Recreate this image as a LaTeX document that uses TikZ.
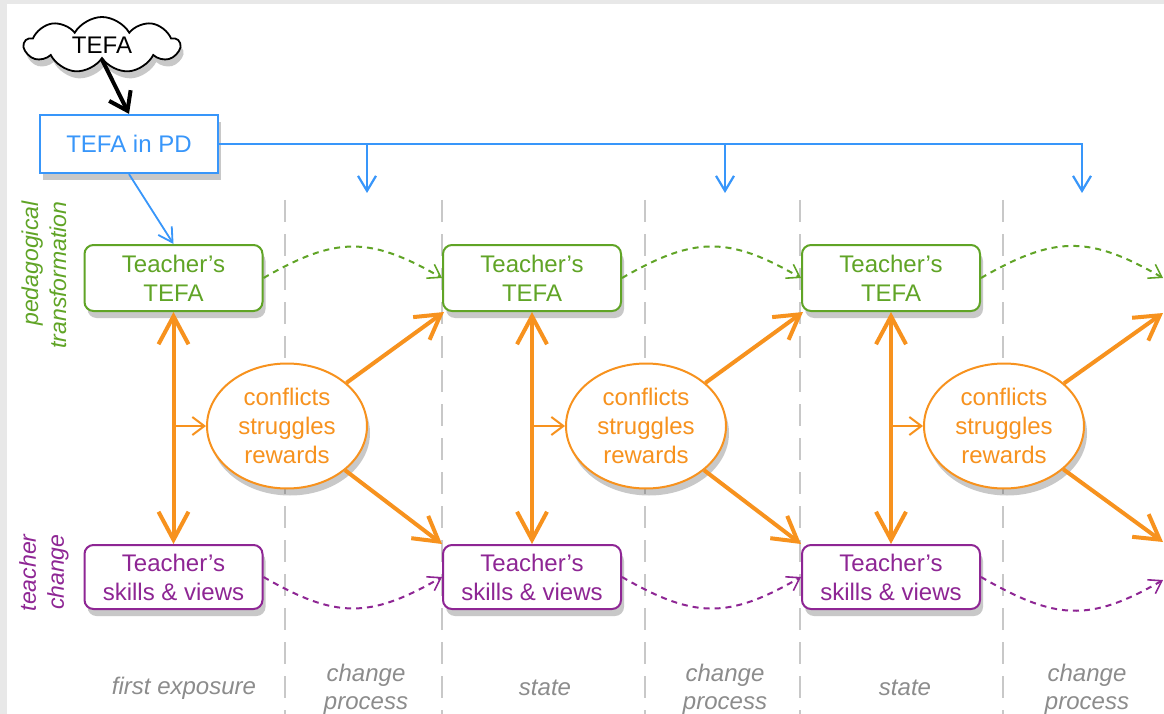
\documentclass[tikz,border=0pt]{standalone}
\usepackage{fontspec}
\setmainfont{Liberation Sans}
\usetikzlibrary{arrows.meta,shapes.symbols,shapes.geometric,shadows}
\definecolor{cblue}{RGB}{56,150,250}
\definecolor{cgreen}{RGB}{96,164,38}
\definecolor{cpurple}{RGB}{142,38,148}
\definecolor{corange}{RGB}{247,146,30}
\definecolor{cgrayt}{RGB}{140,140,140}
\definecolor{cdash}{RGB}{200,200,200}
\definecolor{cframe}{RGB}{232,232,232}
\begin{document}
\begin{tikzpicture}[x=1pt,y=-1pt,font=\fontsize{24}{29}\selectfont,
  shad/.style={drop shadow={shadow xshift=3pt,shadow yshift=-7pt,opacity=0.3,fill=black!70}},
  gbox/.style={draw=cgreen,line width=2pt,rounded corners=9pt,fill=white,text=cgreen,
    minimum width=178pt,minimum height=66pt,align=center,inner sep=0pt,shad},
  pbox/.style={draw=cpurple,line width=2pt,rounded corners=9pt,fill=white,text=cpurple,
    minimum width=178pt,minimum height=64pt,align=center,inner sep=0pt,shad},
  cell/.style={ellipse,draw=corange,line width=2pt,fill=white,text=corange,
    minimum width=160pt,minimum height=125pt,align=center,inner sep=0pt,shad},
  vdash/.style={cdash,line width=2pt,dash pattern=on 22pt off 12pt},
  bigarr/.style={corange,line width=4pt,-{Straight Barb[length=24pt,width=28pt]}},
  duoarr/.style={corange,line width=4pt,{Straight Barb[length=28pt,width=30pt]}-{Straight Barb[length=28pt,width=30pt]}},
  smallarr/.style={corange,line width=2pt,-{Straight Barb[length=12pt,width=18pt]}},
  bluearr/.style={cblue,line width=2.2pt,-{Straight Barb[length=15pt,width=18pt]}},
  gdash/.style={cgreen,line width=2pt,dash pattern=on 6pt off 5pt,-{Straight Barb[length=12pt,width=16pt,line width=1.6pt]}},
  pdash/.style={cpurple,line width=2pt,dash pattern=on 6pt off 5pt,-{Straight Barb[length=12pt,width=16pt,line width=1.6pt]}},
  sidelab/.style={rotate=90,anchor=east,align=right,font=\fontsize{23}{28}\selectfont\itshape},
  botlab/.style={text=cgrayt,align=center,font=\fontsize{24}{28}\selectfont\itshape}
]
\useasboundingbox (0,0) rectangle (1164,714);
\fill[white] (0,0) rectangle (1164,714);
\fill[cframe] (0,0) rectangle (1164,4);
\fill[cframe] (0,0) rectangle (7,714);

% vertical dashed separators
\foreach \xx in {285,442,645,800,1003}
  \draw[vdash] (\xx,200) -- (\xx,714);

% top nodes
\node[cloud,cloud puffs=9,cloud puff arc=120,aspect=2.8,draw=black,line width=1.8pt,
  fill=white,minimum width=155pt,minimum height=56pt,inner sep=0pt,shad] (tefa) at (102,45) {TEFA};
\node[draw=cblue,line width=2.2pt,fill=white,text=cblue,minimum width=178pt,minimum height=58pt,
  inner sep=0pt,shad] (pd) at (129,144) {TEFA in PD};

% boxes
\node[gbox] (g1) at (173.5,278) {Teacher's\\TEFA};
\node[gbox] (g2) at (532,278) {Teacher's\\TEFA};
\node[gbox] (g3) at (891,278) {Teacher's\\TEFA};
\node[pbox] (p1) at (173.5,577) {Teacher's\\skills \& views};
\node[pbox] (p2) at (532,577) {Teacher's\\skills \& views};
\node[pbox] (p3) at (891,577) {Teacher's\\skills \& views};
\node[cell] (e1) at (287,426) {conflicts\\struggles\\rewards};
\node[cell] (e2) at (646,426) {conflicts\\struggles\\rewards};
\node[cell] (e3) at (1004,426) {conflicts\\struggles\\rewards};

% coordinates
\coordinate (j1) at (367,145);
\coordinate (j2) at (725,145);
\coordinate (b1) at (367,193);
\coordinate (b2) at (725,193);
\coordinate (b3) at (1082,193);
\coordinate (m1) at (173.5,426);
\coordinate (m2) at (532,426);
\coordinate (m3) at (891,426);
\coordinate (g4) at (1163,313);
\coordinate (p4) at (1163,542);
\coordinate (g4w) at (1163,278);
\coordinate (p4w) at (1163,580);

% black arrow from cloud
\draw[line width=4pt,-{Straight Barb[length=17pt,width=24pt]}] (tefa.south) -- (pd.north);

% blue connectors
\draw[bluearr] (pd.east) -| (b3);
\draw[bluearr] (j1) -- (b1);
\draw[bluearr] (j2) -- (b2);
\draw[cblue,line width=1.8pt,-{Straight Barb[length=14pt,width=16pt]}] (pd.south) -- (g1.north);

% orange
\draw[duoarr] (g1.south) -- (p1.north);
\draw[duoarr] (g2.south) -- (p2.north);
\draw[duoarr] (g3.south) -- (p3.north);
\draw[smallarr] (m1) -- (e1.west);
\draw[smallarr] (m2) -- (e2.west);
\draw[smallarr] (m3) -- (e3.west);
\draw[bigarr] (e1) -- ([xshift=2pt]g2.south west);
\draw[bigarr] (e1) -- (p2.north west);
\draw[bigarr] (e2) -- ([xshift=2pt]g3.south west);
\draw[bigarr] (e2) -- (p3.north west);
\draw[bigarr] (e3) -- (g4);
\draw[bigarr] (e3) -- (p4);

% dashed curves
\draw[gdash] (g1.east) to[out=30,in=150,looseness=1.2] (g2.west);
\draw[gdash] (g2.east) to[out=30,in=150,looseness=1.2] (g3.west);
\draw[gdash] (g3.east) to[out=30,in=150,looseness=1.2] (g4w);
\draw[pdash] (p1.east) to[out=-30,in=-150,looseness=1.2] (p2.west);
\draw[pdash] (p2.east) to[out=-30,in=-150,looseness=1.2] (p3.west);
\draw[pdash] (p3.east) to[out=-30,in=-150,looseness=1.2] (p4w);

% side labels
\node[sidelab,text=cgreen] (lped) at (44,198) {pedagogical\\transformation};
\node[sidelab,text=cpurple] (lteach) at (44,531) {teacher\\change};

% bottom labels
\node[botlab] (t1) at (184,688) {first exposure};
\node[botlab] (t2) at (366,689) {change\\process};
\node[botlab] (t3) at (545,688) {state};
\node[botlab] (t4) at (725,689) {change\\process};
\node[botlab] (t5) at (905,688) {state};
\node[botlab] (t6) at (1087,689) {change\\process};
\end{tikzpicture}
\end{document}
